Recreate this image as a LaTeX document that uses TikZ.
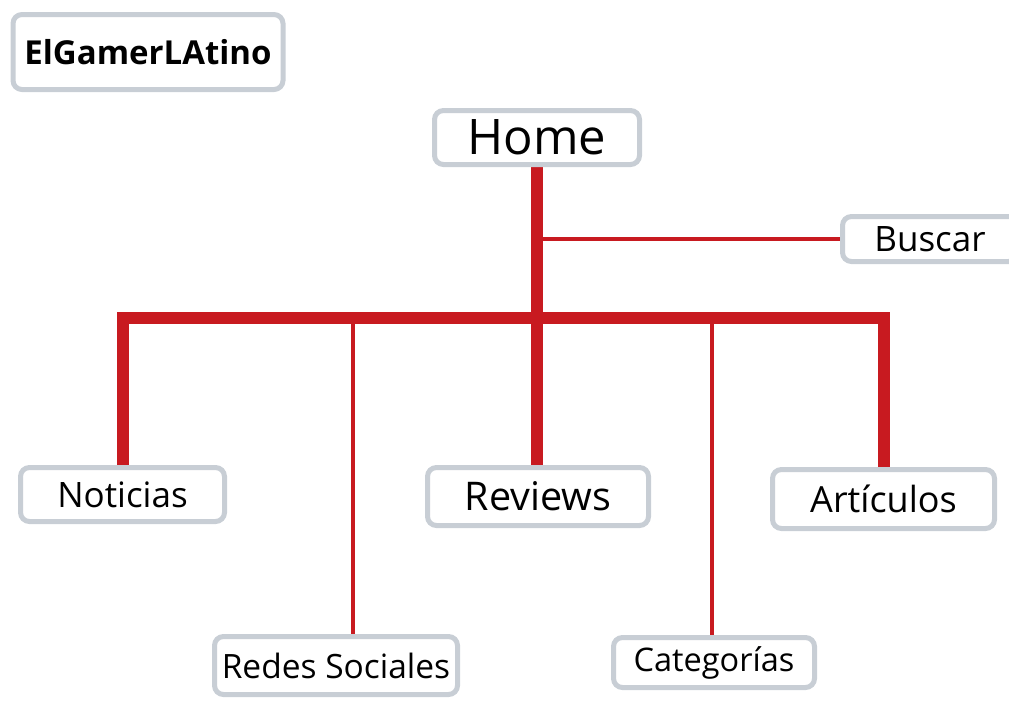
\documentclass[tikz,border=0pt]{standalone}
\usepackage{fontspec}
\setmainfont{Open Sans}
\usetikzlibrary{positioning, backgrounds}
\definecolor{rojoarbol}{HTML}{C81A20}
\definecolor{grisborde}{HTML}{C8CED5}

\begin{document}
\begin{tikzpicture}[x=1pt, y=-1pt,
    caja/.style={draw=grisborde, line width=5pt, rounded corners=9pt, fill=white, inner sep=0pt, text=black, font=\fontsize{35}{40}\selectfont},
    grueso/.style={draw=rojoarbol, line width=12pt},
    fino/.style={draw=rojoarbol, line width=4.5pt}]
  \useasboundingbox (0,0) rectangle (1009,705);
  % Logo
  \node[caja, minimum width=270pt, minimum height=75pt, font=\fontsize{33}{38}\selectfont\bfseries] (logo) at (148,52) {ElGamerLAtino};
  % Nivel superior
  \node[caja, minimum width=205pt, minimum height=54pt, font=\fontsize{49}{56}\selectfont] (home) at (537,137.5) {Home};
  \node[caja, minimum width=175pt, minimum height=45pt] (buscar) at (930,239) {Buscar};
  % Secciones
  \node[caja, minimum width=204pt, minimum height=54pt] (noticias) at (122.5,494.5) {Noticias};
  \node[caja, minimum width=221pt, minimum height=58pt, font=\fontsize{39.5}{45}\selectfont] (reviews) at (538,496.5) {Reviews};
  \node[caja, minimum width=222pt, minimum height=59pt, font=\fontsize{36}{41}\selectfont] (articulos) at (883.5,499) {Artículos};
  \node[caja, minimum width=243pt, minimum height=58pt, font=\fontsize{33.5}{38}\selectfont] (redes) at (336,665.5) {Redes Sociales};
  \node[caja, minimum width=201pt, minimum height=50pt, font=\fontsize{32.5}{37}\selectfont] (categorias) at (714,662.5) {Categorías};
  \coordinate (barra) at (537,318);
  % Conectores
  \begin{scope}[on background layer]
    \draw[grueso] (home.south) -- (home.south |- reviews.north);
    \draw[grueso] (noticias.north) -- (noticias.north |- barra) -- (articulos.north |- barra) -- (articulos.north);
    \draw[fino] (home.south |- buscar.west) -- (buscar.west);
    \draw[fino] ([xshift=17pt]redes.north) -- ([xshift=17pt]redes.north |- barra);
    \draw[fino] ([xshift=-2pt]categorias.north) -- ([xshift=-2pt]categorias.north |- barra);
  \end{scope}
\end{tikzpicture}
\end{document}
